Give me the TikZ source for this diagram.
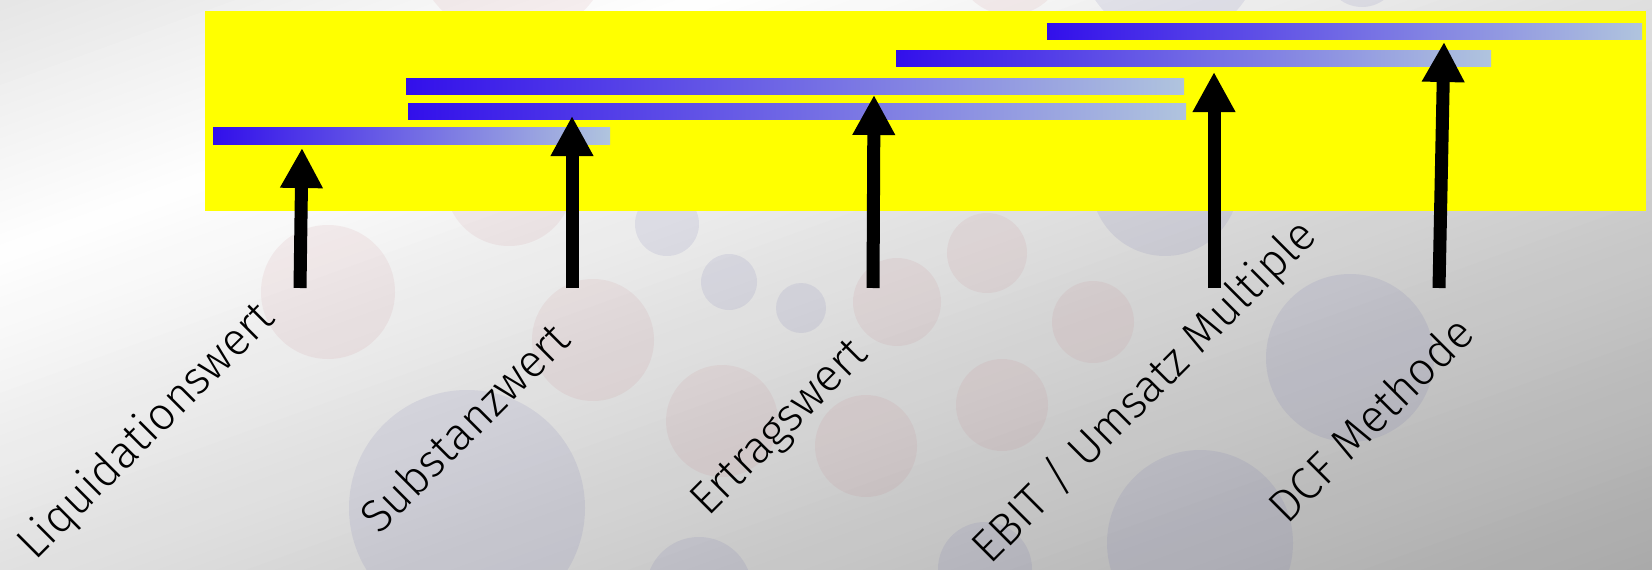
\documentclass[tikz,border=0pt]{standalone}
\usepackage{fontspec}
\setmainfont{Fira Sans}[UprightFont=* Light]
\usetikzlibrary{arrows.meta}
\definecolor{barblue}{RGB}{50,15,235}
\definecolor{barlight}{RGB}{176,196,222}
\definecolor{feld}{RGB}{255,255,0}
\definecolor{dotred}{RGB}{190,100,110}
\definecolor{dotblue}{RGB}{80,80,160}
\tikzset{
  bar/.style={left color=barblue, right color=barlight},
  pfeil/.style={line width=0.13cm, -{Triangle[width=0.4cm,length=0.4cm]}},
  wert/.style={rotate=45, inner sep=0pt, font=\fontsize{13}{15}\selectfont},
  rotpunkt/.style={fill=dotred, fill opacity=0.09},
  blaupunkt/.style={fill=dotblue, fill opacity=0.1},
}
\begin{document}
\begin{tikzpicture}[x=0.01cm, y=-0.01cm] %Bewertungsverfahren im Vergleich
            \useasboundingbox (0,0) rectangle (1652,570);
            \clip (0,0) rectangle (1652,570);
            % Hintergrund: Verlauf in schraegen Streifen, weiss bei s=235
            \foreach \s in {-20,-10,...,1120}{
                \pgfmathsetmacro\hell{\s<235 ? 100-0.0416*(235-\s) : 100-0.0392*(\s-235)}
                \fill[white!\hell!black] ({0.34*\s-2820},{0.94*\s+1020}) -- ({0.34*\s+2820},{0.94*\s-1020})
                    -- ({0.34*(\s+11)+2820},{0.94*(\s+11)-1020}) -- ({0.34*(\s+11)-2820},{0.94*(\s+11)+1020}) -- cycle;
            }

            % Punkte im Hintergrund
            \foreach \x/\y/\r in {328/292/67, 509/182/64, 513/-60/100, 593/340/61, 722/421/56, 897/302/44,
                                  987/253/40, 1002/405/46, 1093/322/41, 866/446/51, 1010/-40/55}
                \fill[rotpunkt] (\x,\y) circle[radius=\r];
            \foreach \x/\y/\r in {467/508/118, 667/224/32, 729/282/28, 801/308/25, 1165/182/74, 1350/358/84,
                                  1200/543/93, 699/590/53, 985/569/47, 1170/-50/90, 1362/-30/37}
                \fill[blaupunkt] (\x,\y) circle[radius=\r];

            \fill[feld] (205,11) rectangle (1646,211);

            \shade[bar] (1047,24) rectangle (1642,40);
            \shade[bar] (896,51) rectangle (1491,67);
            \shade[bar] (406,79) rectangle (1184,95);
            \shade[bar] (408,104) rectangle (1186,120);
            \shade[bar] (213,128) rectangle (610,145);

            \coordinate (liqfuss) at (300,288);
            \coordinate (liqspitze) at (302,148);
            \coordinate (subfuss) at (572,288);
            \coordinate (subspitze) at (572,116);
            \coordinate (ertfuss) at (873,288);
            \coordinate (ertspitze) at (874,95);
            \coordinate (ebitfuss) at (1214,288);
            \coordinate (ebitspitze) at (1214,72);
            \coordinate (dcffuss) at (1439,288);
            \coordinate (dcfspitze) at (1444,42);

            \draw[pfeil] (liqfuss) -- (liqspitze);
            \draw[pfeil] (subfuss) -- (subspitze);
            \draw[pfeil] (ertfuss) -- (ertspitze);
            \draw[pfeil] (ebitfuss) -- (ebitspitze);
            \draw[pfeil] (dcffuss) -- (dcfspitze);

            \node[wert] (liq) at (147,432) {Liquidationswert};
            \node[wert] (sub) at (464,427) {Substanzwert};
            \node[wert] (ert) at (781,429) {Ertragswert};
            \node[wert] (ebit) at (1145,392) {EBIT / Umsatz Multiple};
            \node[wert] (dcf) at (1370,419) {DCF Methode};
        \end{tikzpicture}
\end{document}
